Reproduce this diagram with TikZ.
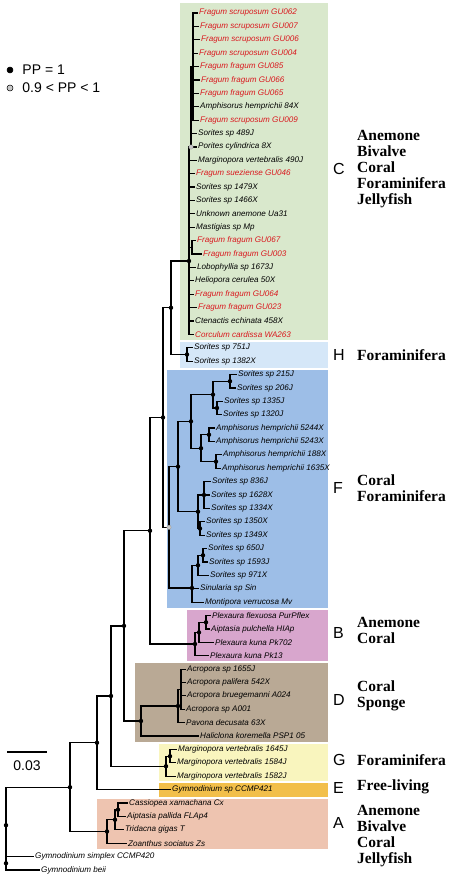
\documentclass[tikz,border=0pt]{standalone}
\usepackage{fontspec}
\setmainfont{Liberation Serif}
\setsansfont{Liberation Sans}
\usepackage{tikz}
\usetikzlibrary{positioning}
\definecolor{fragred}{RGB}{218,24,30}
\definecolor{cladeC}{RGB}{217,232,204}
\definecolor{cladeH}{RGB}{213,231,248}
\definecolor{cladeF}{RGB}{157,190,231}
\definecolor{cladeB}{RGB}{216,166,205}
\definecolor{cladeD}{RGB}{185,169,149}
\definecolor{cladeG}{RGB}{249,245,190}
\definecolor{cladeE}{RGB}{242,191,74}
\definecolor{cladeA}{RGB}{238,196,176}
\definecolor{ppgrey}{RGB}{200,200,200}
\tikzset{
  branch/.style={line width=1.2pt, black},
  leaf/.style={anchor=west, inner sep=1pt, text=#1,
    font=\fontsize{8.1}{9}\selectfont\sffamily\itshape},
  leaf/.default=black,
  cladebox/.style={fill=#1, draw=none},
  cladeletter/.style={anchor=west, inner sep=0pt,
    font=\fontsize{16}{16}\selectfont\sffamily},
  cladename/.style={anchor=west, inner sep=0pt, align=left,
    font=\fontsize{15.5}{16}\selectfont\bfseries},
  legdot/.style={circle, draw=black, fill=#1, inner sep=0pt,
    minimum size=6pt, line width=0.5pt},
  legdot/.default=black,
  legtext/.style={inner sep=0pt, font=\fontsize{14}{14}\selectfont\sffamily},
}

\begin{document}
\begin{tikzpicture}[x=1pt, y=-1pt]
    \useasboundingbox (0,0) rectangle (459,878);
    % clade boxes
    \fill[cladebox=cladeC] (180,3) rectangle (328,340);
    \fill[cladebox=cladeH] (180,342) rectangle (328,368);
    \fill[cladebox=cladeF] (167,370) rectangle (328,608);
    \fill[cladebox=cladeB] (187,609.5) rectangle (328,661);
    \fill[cladebox=cladeD] (135,662.5) rectangle (328,742);
    \fill[cladebox=cladeG] (159,743.5) rectangle (328,781);
    \fill[cladebox=cladeE] (159,783) rectangle (328,797);
    \fill[cladebox=cladeA] (97,798.5) rectangle (328,849);

    % internal nodes
    \coordinate (root) at (6,825.2);
    \coordinate (r2) at (6,863.3);
    \coordinate (n70) at (70,787.2);
    \coordinate (n97) at (97,742.8);
    \coordinate (n111) at (111,696);
    \coordinate (n124) at (124,625.9);
    \coordinate (n150) at (150,530.8);
    \coordinate (n163) at (163,417.5);
    \coordinate (n171) at (171,307.8);
    \coordinate (c1) at (189,261);
    \coordinate (cg) at (191,147);
    \coordinate (c3) at (193,66.6);
    \coordinate (c2) at (192,247.3);
    \coordinate (h) at (187,354.5);
    \coordinate (fR) at (169,527.3);
    \coordinate (fY) at (178,466.6);
    \coordinate (fX) at (191,421.4);
    \coordinate (f4) at (213,394.6);
    \coordinate (f5) at (230,381.2);
    \coordinate (f6) at (217,408);
    \coordinate (f7) at (201,448.2);
    \coordinate (f8) at (209,434.8);
    \coordinate (f9) at (216,461.6);
    \coordinate (fZ) at (198,511.7);
    \coordinate (f10) at (204,495);
    \coordinate (f11) at (200,528.5);
    \coordinate (fW) at (192,588);
    \coordinate (f12) at (198,565.3);
    \coordinate (f13) at (203,555.3);
    \coordinate (bR) at (195,644);
    \coordinate (b1) at (199,632.4);
    \coordinate (b2) at (206,622.3);
    \coordinate (dR) at (141,721);
    \coordinate (d1) at (178,706);
    \coordinate (d2) at (181,689.2);
    \coordinate (gR) at (166,766.2);
    \coordinate (g2) at (170,756.2);
    \coordinate (aR) at (107,831.5);
    \coordinate (a2) at (115,819.8);
    \coordinate (a3) at (118,809.7);

    \foreach \p/\q in {root/n70, root/r2, n70/n97, n70/aR, n97/n111,
        n111/n124, n111/gR, n124/n150, n124/dR, n150/n163, n150/bR,
        n163/n171, n163/fR, n171/c1, n171/h, c1/cg, cg/c3, c1/c2,
        fR/fY, fR/fW, fY/fX, fY/fZ, fX/f4, fX/f7, f4/f5, f4/f6,
        f7/f8, f7/f9, fZ/f10, fZ/f11, fW/f12, f12/f13,
        bR/b1, b1/b2, dR/d1, d1/d2, gR/g2, aR/a2, a2/a3}
      \draw[branch] (\p) |- (\q);

    % leaves: row / parent / tip / colour / name
    \foreach \r/\p/\x/\c/\t in {
        0/c3/198/fragred/Fragum scruposum GU062,
        1/c3/199/fragred/Fragum scruposum GU007,
        2/c3/200/fragred/Fragum scruposum GU006,
        3/c3/198/fragred/Fragum scruposum GU004,
        4/c3/199/fragred/Fragum fragum GU085,
        5/c3/200/fragred/Fragum fragum GU066,
        6/c3/199/fragred/Fragum fragum GU065,
        7/c3/199/black/Amphisorus hemprichii 84X,
        8/c3/199/fragred/Fragum scruposum GU009,
        9/cg/197/black/Sorites sp 489J,
        10/cg/197/black/Porites cylindrica 8X,
        11/c1/197/black/Marginopora vertebralis 490J,
        12/c1/195/fragred/Fragum sueziense GU046,
        13/c1/195/black/Sorites sp 1479X,
        14/c1/195/black/Sorites sp 1466X,
        15/c1/195/black/Unknown anemone Ua31,
        16/c1/195/black/Mastigias sp Mp,
        17/c2/196/fragred/Fragum fragum GU067,
        18/c2/202/fragred/Fragum fragum GU003,
        19/c1/196/black/Lobophyllia sp 1673J,
        20/c1/194/black/Heliopora cerulea 50X,
        21/c1/194/fragred/Fragum fragum GU064,
        22/c1/197/fragred/Fragum fragum GU023,
        23/c1/194/black/Ctenactis echinata 458X,
        24/c1/194/fragred/Corculum cardissa WA263,
        25/h/193/black/Sorites sp 751J,
        26/h/193/black/Sorites sp 1382X,
        27/f5/237/black/Sorites sp 215J,
        28/f5/236/black/Sorites sp 206J,
        29/f6/223/black/Sorites sp 1335J,
        30/f6/222/black/Sorites sp 1320J,
        31/f8/215/black/Amphisorus hemprichii 5244X,
        32/f8/215/black/Amphisorus hemprichii 5243X,
        33/f9/222/black/Amphisorus hemprichii 188X,
        34/f9/221/black/Amphisorus hemprichii 1635X,
        35/f10/211/black/Sorites sp 836J,
        36/f10/210/black/Sorites sp 1628X,
        37/f10/210/black/Sorites sp 1334X,
        38/f11/205/black/Sorites sp 1350X,
        39/f11/205/black/Sorites sp 1349X,
        40/f13/207/black/Sorites sp 650J,
        41/f13/208/black/Sorites sp 1593J,
        42/f12/209/black/Sorites sp 971X,
        43/fW/199/black/Sinularia sp Sin,
        44/fW/204/black/Montipora verrucosa Mv,
        45/b2/211/black/Plexaura flexuosa PurPflex,
        46/b2/210/black/Aiptasia pulchella HIAp,
        47/b1/214/black/Plexaura kuna Pk702,
        48/bR/209/black/Plexaura kuna Pk13,
        49/d2/186/black/Acropora sp 1655J,
        50/d2/186/black/Acropora palifera 542X,
        51/d2/186/black/Acropora bruegemanni A024,
        52/d2/185/black/Acropora sp A001,
        53/d1/185/black/Pavona decusata 63X,
        54/dR/199/black/Haliclona koremella PSP1 05,
        55/g2/177/black/Marginopora vertebralis 1645J,
        56/g2/176/black/Marginopora vertebralis 1584J,
        57/gR/176/black/Marginopora vertebralis 1582J,
        58/n97/171/black/Gymnodinium sp CCMP421,
        59/a3/128/black/Cassiopea xamachana Cx,
        60/a3/126/black/Aiptasia pallida FLAp4,
        61/a2/124/black/Tridacna gigas T,
        62/aR/127/black/Zoanthus sociatus Zs,
        63/r2/34/black/Gymnodinium simplex CCMP420,
        64/r2/40/black/Gymnodinium beii}{
      \node[leaf=\c] (leaf\r) at (\x,{13+13.39*\r}) {\t};
      \draw[branch] (\p) |- (leaf\r.west);
    }

    % posterior probabilities
    \foreach \n in {root, r2, n70, n97, n111, n124, n150, n163, n171, c1,
        h, fY, fX, f4, f5, f6, f7, f8, f9, f10, f11, fZ, fW, f12, f13,
        bR, b1, b2, dR, d1, gR, g2, aR, a2, a3}
      \fill (\n) circle (2.2pt);
    \foreach \n in {fR, cg}
      \filldraw[fill=ppgrey, draw=black!40, line width=0.3pt] (\n) circle (2.2pt);

    % clade labels
    \node[cladeletter] (letC) at (333,169) {C};
    \node[cladename] (nameC) at (357,169) {Anemone\\Bivalve\\Coral\\Foraminifera\\Jellyfish};
    \node[cladeletter] (letH) at (333,355) {H};
    \node[cladename] (nameH) at (357,355) {Foraminifera};
    \node[cladeletter] (letF) at (333,488) {F};
    \node[cladename] (nameF) at (357,488.5) {Coral\\Foraminifera};
    \node[cladeletter] (letB) at (333,633) {B};
    \node[cladename] (nameB) at (357,630) {Anemone\\Coral};
    \node[cladeletter] (letD) at (333,700) {D};
    \node[cladename] (nameD) at (357,696) {Coral\\Sponge};
    \node[cladeletter] (letG) at (333,760) {G};
    \node[cladename] (nameG) at (357,760) {Foraminifera};
    \node[cladeletter] (letE) at (333,788) {E};
    \node[cladename] (nameE) at (357,787) {Free-living};
    \node[cladeletter] (letA) at (333,823) {A};
    \node[cladename] (nameA) at (357,836.5) {Anemone\\Bivalve\\Coral\\Jellyfish};

    % legend and scale
    \node[legdot] (ppone) at (10,70) {};
    \node[legtext, right=9pt of ppone] (pponetext) {PP = 1};
    \node[legdot=ppgrey] (pphigh) at (10,88) {};
    \node[legtext, right=9pt of pphigh] (pphightext) {0.9 < PP < 1};
    \coordinate (scaleL) at (7,752);
    \coordinate (scaleR) at (47,752);
    \draw[line width=2pt] (scaleL) -- (scaleR);
    \node[legtext] (scaletext) at (27,766) {0.03};
\end{tikzpicture}
\end{document}
